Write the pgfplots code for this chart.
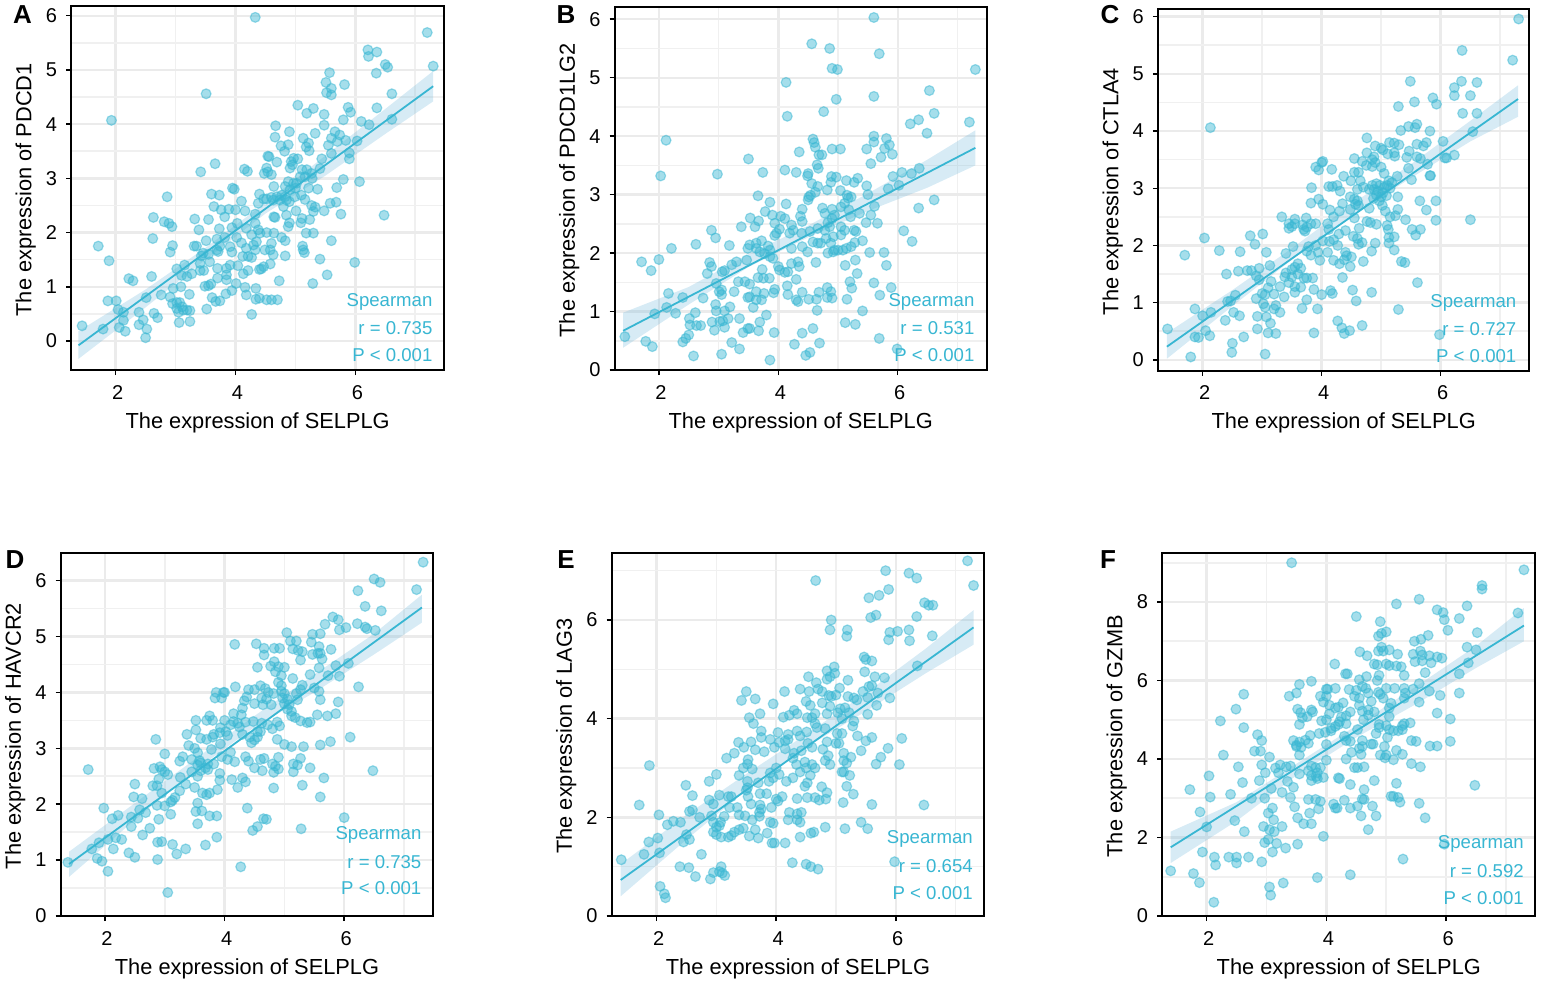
\documentclass[border=0pt]{standalone}
\usepackage{fontspec}
\setmainfont{Liberation Sans}
\usepackage{pgfplots}
\pgfplotsset{compat=1.18}
\definecolor{cb}{HTML}{38B6D2}
\definecolor{bandc}{HTML}{6FB7DA}
\definecolor{gmaj}{HTML}{EBEBEB}
\definecolor{gmin}{HTML}{F0F0F0}
\tikzset{stat/.style={font=\fontsize{9.3}{11}\selectfont, text=cb, anchor=east, inner sep=0pt},
  letter/.style={font=\bfseries\fontsize{13}{15}\selectfont}}
\pgfplotsset{
  pan/.style={
    scale only axis, anchor=south west,
    /pgf/number format/assume math mode=true,
    tick label style={font=\fontsize{10}{12}\selectfont, black},
    label style={font=\fontsize{10.9}{13}\selectfont, black},
    axis line style={line width=0.95pt, black},
    tick style={line width=0.75pt, black},
    major tick length=2.6pt, minor tick length=0pt,
    tick align=outside, xtick pos=bottom, ytick pos=left,
    xtick={2,4,6}, minor xtick={3,5,7},
    xmajorgrids, ymajorgrids, xminorgrids, yminorgrids,
    major grid style={gmaj, line width=1.2pt},
    minor grid style={gmin, line width=0.8pt},
    xlabel={The expression of SELPLG},
    xlabel style={at={(axis description cs:0.5,-0.145)}, anchor=center},
    ylabel style={at={(axis description cs:-0.122,0.495)}, anchor=center},
    xticklabel style={xshift=1pt, yshift=-1.5pt},
    yticklabel style={xshift=-1pt},
    enlargelimits=false, clip=false,
  },
  dots/.style={only marks, mark=*, mark size=2.45pt,
    mark options={fill=cb, draw=cb, fill opacity=0.45, draw opacity=0.5, line width=0.6pt}},
  band/.style={fill=bandc, draw=none, opacity=0.28, forget plot},
  fit/.style={cb, line width=0.9pt, no marks},
}
\begin{document}
\begin{tikzpicture}
\path[use as bounding box] (0pt,0pt) rectangle (770.5pt,492pt);

% A
\begin{axis}[pan, at={(35.65pt,307pt)}, width=186.35pt, height=182pt,
  xmin=1.26, xmax=7.48, ymin=-0.535, ymax=6.18, ytick={0,...,6}, minor ytick={0.5,1.5,...,5.5},
  ylabel={The expression of PDCD1}]
\addplot[band] coordinates {(1.38,0.18) (2.5,0.95) (3.5,1.72) (4.5,2.55) (5.5,3.42) (6.5,4.28) (7.3,4.98) (7.3,4.42) (6.5,3.82) (5.5,3.05) (4.5,2.35) (3.5,1.5) (2.5,0.62) (1.38,-0.33)} -- cycle;
\addplot[dots] coordinates {
(4.33,5.97) (7.20,5.69) (7.30,5.07) (6.21,5.37) (6.36,5.33) (6.22,5.25) (6.35,4.94) (6.50,5.10) (6.54,5.05) (5.57,4.95)
(5.51,4.77) (5.82,4.73) (5.6,4.66) (5.52,4.58) (5.6,4.54) (6.61,4.56) (3.51,4.56) (5.04,4.35) (5.88,4.31) (5.3,4.29)
(6.36,4.3) (5.19,4.2) (5.92,4.22) (5.48,4.18) (5.8,4.08) (6.1,4.05) (6.61,4.09) (6.23,3.99) (1.93,4.07) (4.67,3.97)
(5.48,3.98) (4.9,3.86) (5.33,3.83) (5.66,3.86) (5.74,3.8) (4.66,3.76) (5.13,3.74) (5.6,3.74) (5.84,3.7) (6.03,3.69)
(5.7,3.68) (5.22,3.65) (5.55,3.61) (4.76,3.6) (4.88,3.62) (5.18,3.58) (4.82,3.5) (5.23,3.51) (5.6,3.46) (5.9,3.47)
(5.9,3.36) (4.54,3.41) (4.56,3.4) (5.44,3.36) (4.97,3.37) (4.93,3.31) (4.95,3.25) (4.91,3.19) (5.04,3.36) (4.69,3.3)
(3.66,3.27) (4.52,3.19) (4.48,3.09) (4.54,3.12) (4.6,3.07) (4.15,3.17) (4.2,3.13) (3.42,3.12) (5.41,3.18) (5.11,3.16)
(5.19,3.16) (5.27,3.09) (5.08,3.03) (5.16,3.03) (5.28,3.0) (5.02,2.91) (5.8,2.98) (6.07,2.94) (4.88,2.94) (4.97,2.91)
(4.83,2.85) (4.91,2.79) (5.0,2.82) (4.64,2.85) (5.22,2.82) (5.37,2.8) (3.95,2.82) (3.98,2.8) (5.69,2.83) (3.6,2.71)
(3.73,2.69) (4.4,2.71) (4.47,2.62) (4.38,2.54) (4.52,2.62) (4.6,2.65) (4.69,2.66) (4.77,2.69) (4.63,2.6) (4.74,2.6)
(4.83,2.66) (4.85,2.6) (4.9,2.57) (4.99,2.66) (5.1,2.69) (5.16,2.61) (2.86,2.66) (4.1,2.58) (5.68,2.56) (5.58,2.54)
(3.64,2.48) (5.27,2.5) (5.33,2.47) (5.3,2.39) (3.76,2.42) (3.82,2.29) (3.89,2.43) (4.0,2.42) (4.16,2.4) (4.8,2.48)
(5.01,2.4) (5.48,2.4) (5.76,2.34) (6.48,2.32) (4.33,2.34) (4.66,2.28) (4.64,2.29) (4.85,2.32) (2.63,2.28) (3.32,2.25)
(3.55,2.24) (5.11,2.26) (5.24,2.24) (2.81,2.2) (2.89,2.17) (2.94,2.11) (4.9,2.18) (4.88,2.11) (5.09,2.18) (4.03,2.17)
(3.94,2.09) (4.18,2.08) (4.33,2.17) (3.73,2.07) (3.39,2.05) (4.38,2.05) (4.52,2.0) (4.27,1.96) (4.41,1.99) (4.64,1.99)
(5.18,1.99) (5.3,1.99) (4.02,1.91) (3.82,1.91) (3.69,1.88) (4.77,1.91) (4.83,1.85) (2.62,1.89) (3.51,1.85) (3.35,1.75)
(3.31,1.75) (4.1,1.81) (4.35,1.83) (4.3,1.77) (4.6,1.8) (5.6,1.85) (1.71,1.75) (2.95,1.76) (5.12,1.75) (5.13,1.68)
(5.15,1.63) (4.18,1.71) (4.33,1.68) (4.49,1.68) (4.58,1.68) (3.74,1.75) (3.69,1.68) (3.91,1.74) (2.91,1.64) (3.94,1.64)
(3.46,1.62) (3.55,1.6) (3.71,1.65) (3.43,1.57) (4.63,1.59) (4.12,1.56) (4.27,1.54) (4.21,1.56) (4.83,1.57) (5.41,1.51)
(1.89,1.48) (3.57,1.46) (5.99,1.45) (3.41,1.43) (4.58,1.42) (4.47,1.37) (4.4,1.32) (4.43,1.33) (3.91,1.4) (4.04,1.39)
(3.85,1.34) (3.15,1.4) (3.02,1.33) (3.7,1.34) (4.21,1.3) (3.41,1.3) (3.47,1.3) (3.27,1.24) (3.19,1.19) (3.1,1.21)
(4.13,1.24) (5.53,1.22) (3.85,1.22) (3.7,1.16) (2.6,1.19) (2.22,1.15) (2.29,1.11) (3.85,1.13) (4.01,1.06) (4.73,1.11)
(5.29,1.06) (3.49,1.01) (3.59,1.05) (3.55,1.02) (2.96,0.97) (3.09,1.0) (4.16,0.99) (4.34,0.97) (3.94,0.93) (3.23,0.86)
(2.76,0.85) (2.51,0.8) (2.91,0.81) (3.84,0.87) (4.18,0.85) (3.61,0.8) (3.67,0.73) (3.74,0.74) (4.34,0.77) (4.4,0.79)
(4.52,0.76) (4.6,0.76) (4.7,0.76) (1.87,0.74) (2.01,0.74) (2.95,0.69) (3.02,0.71) (3.07,0.71) (2.04,0.58) (2.13,0.53)
(3.52,0.59) (3.02,0.6) (3.05,0.53) (3.13,0.57) (3.19,0.57) (3.24,0.56) (3.11,0.63) (2.39,0.53) (2.64,0.51) (4.27,0.49)
(2.7,0.43) (2.46,0.39) (2.13,0.38) (3.24,0.36) (3.06,0.34) (2.39,0.3) (1.44,0.28) (2.52,0.22) (1.79,0.22) (2.06,0.25)
(2.16,0.18) (2.5,0.06)};
\addplot[fit] coordinates {(1.38,-0.08) (7.3,4.7)};
\node[stat] at (axis description cs:0.97,0.187) {Spearman};
\node[stat] at (axis description cs:0.97,0.114) {r = 0.735};
\node[stat] at (axis description cs:0.97,0.041) {P < 0.001};
\end{axis}

% B
\begin{axis}[pan, at={(307.35pt,307pt)}, width=186pt, height=181.65pt,
  xmin=1.26, xmax=7.49, ymin=0, ymax=6.215, ytick={0,...,6}, minor ytick={0.5,1.5,...,5.5},
  ylabel={The expression of PDCD1LG2}]
\addplot[band] coordinates {(1.4,0.98) (2.5,1.42) (3.5,1.98) (4.5,2.47) (5.5,3.02) (6.5,3.6) (7.3,4.1) (7.3,3.5) (6.5,3.12) (5.5,2.72) (4.5,2.27) (3.5,1.76) (2.5,1.12) (1.4,0.38)} -- cycle;
\addplot[dots] coordinates {
(5.60,6.03) (4.56,5.58) (4.86,5.5) (5.69,5.41) (4.9,5.16) (4.99,5.14) (7.30,5.14) (4.13,4.92) (6.53,4.78) (5.6,4.68)
(4.97,4.63) (4.76,4.42) (6.61,4.39) (4.15,4.34) (6.35,4.28) (7.2,4.24) (6.21,4.21) (6.49,4.05) (5.6,4.0) (5.81,3.96)
(2.12,3.93) (4.58,3.95) (4.6,3.89) (5.6,3.9) (4.62,3.81) (5.86,3.85) (5.78,3.79) (4.9,3.78) (5.04,3.78) (5.48,3.78)
(4.35,3.73) (4.68,3.68) (4.73,3.68) (5.91,3.69) (5.72,3.64) (3.5,3.61) (5.55,3.53) (4.65,3.51) (4.67,3.45) (4.11,3.42)
(4.3,3.38) (3.74,3.38) (2.98,3.35) (2.03,3.32) (4.5,3.36) (4.49,3.32) (4.89,3.31) (4.97,3.3) (5.92,3.31) (6.07,3.38)
(6.23,3.36) (6.36,3.45) (5.14,3.24) (5.27,3.21) (5.33,3.28) (4.88,3.21) (4.56,3.19) (4.66,3.14) (5.48,3.15) (6.02,3.16)
(4.82,3.08) (5.04,3.07) (5.84,3.1) (4.62,3.04) (4.54,2.99) (4.5,2.91) (5.5,3.0) (3.66,2.98) (5.15,2.99) (5.22,2.96)
(5.17,2.94) (4.51,2.96) (6.61,2.91) (3.86,2.87) (4.13,2.84) (5.11,2.85) (5.05,2.79) (5.61,2.8) (4.4,2.75) (4.74,2.77)
(4.78,2.68) (4.9,2.75) (6.35,2.77) (3.78,2.71) (3.9,2.65) (5.18,2.74) (5.36,2.68) (5.21,2.62) (4.94,2.65) (4.9,2.59)
(4.83,2.52) (4.04,2.63) (4.11,2.59) (4.37,2.63) (4.4,2.54) (5.55,2.65) (5.47,2.52) (5.66,2.51) (3.53,2.6) (3.67,2.55)
(3.94,2.51) (4.22,2.48) (3.61,2.45) (3.38,2.45) (2.88,2.39) (4.02,2.41) (3.97,2.34) (3.94,2.3) (5.05,2.45) (5.11,2.39)
(5.27,2.39) (5.3,2.37) (4.25,2.39) (4.39,2.34) (4.53,2.37) (4.66,2.42) (4.78,2.39) (4.86,2.45) (6.1,2.38) (4.19,2.34)
(5.05,2.31) (2.95,2.26) (3.72,2.21) (4.92,2.28) (4.8,2.25) (4.88,2.17) (4.71,2.17) (4.58,2.19) (4.66,2.17) (5.41,2.21)
(5.28,2.18) (6.24,2.2) (2.62,2.15) (3.63,2.17) (3.49,2.08) (3.63,2.08) (3.52,2.14) (3.18,2.13) (3.83,2.12) (3.86,2.05)
(3.69,2.02) (3.77,1.99) (3.86,1.94) (3.91,1.91) (2.21,2.08) (4.4,2.11) (4.22,2.08) (4.49,2.02) (5.22,2.11) (5.14,2.08)
(5.0,2.05) (5.08,2.05) (4.92,2.02) (4.83,2.0) (4.94,2.05) (5.53,2.01) (5.77,2.01) (2.0,1.89) (1.71,1.85) (2.85,1.84)
(3.47,1.88) (3.3,1.85) (4.33,1.85) (4.22,1.82) (4.35,1.77) (5.29,1.88) (4.63,1.84) (3.22,1.8) (2.88,1.77) (5.81,1.79)
(5.12,1.79) (4.0,1.77) (4.02,1.71) (4.16,1.68) (4.11,1.67) (1.87,1.7) (3.73,1.72) (3.06,1.68) (3.1,1.7) (2.81,1.65)
(5.32,1.65) (4.3,1.55) (3.66,1.58) (3.85,1.57) (3.75,1.57) (5.2,1.51) (5.6,1.49) (3.44,1.51) (3.33,1.51) (3.52,1.47)
(2.96,1.48) (4.15,1.44) (5.89,1.41) (4.82,1.41) (4.88,1.34) (5.23,1.4) (3.94,1.38) (3.92,1.32) (3.05,1.37) (3.01,1.34)
(3.05,1.29) (3.26,1.34) (4.4,1.33) (4.68,1.33) (3.63,1.34) (3.76,1.31) (2.16,1.31) (4.16,1.29) (5.7,1.28) (3.52,1.25)
(3.49,1.24) (2.4,1.24) (4.82,1.24) (4.9,1.23) (2.74,1.23) (4.3,1.2) (4.33,1.17) (4.51,1.21) (4.64,1.21) (3.63,1.2)
(3.72,1.2) (5.15,1.21) (2.95,1.12) (3.58,1.07) (3.19,1.08) (3.1,1.01) (2.13,1.07) (4.65,1.02) (5.41,1.01) (2.96,1.01)
(1.93,0.96) (2.28,0.97) (2.61,0.98) (3.8,0.94) (3.35,0.88) (2.51,0.88) (3.16,0.88) (2.89,0.82) (3.02,0.83) (3.07,0.84)
(3.69,0.82) (5.12,0.81) (5.29,0.78) (2.52,0.77) (2.63,0.76) (2.7,0.76) (3.1,0.73) (2.93,0.68) (3.49,0.71) (3.52,0.71)
(4.58,0.71) (3.67,0.67) (3.93,0.64) (3.41,0.64) (4.4,0.63) (2.5,0.6) (2.45,0.54) (1.43,0.57) (5.69,0.54) (1.78,0.49)
(2.4,0.48) (3.22,0.47) (4.69,0.46) (4.27,0.44) (1.89,0.4) (3.35,0.36) (5.99,0.36) (3.05,0.27) (4.53,0.3) (4.46,0.25)
(2.58,0.24) (3.86,0.17)};
\addplot[fit] coordinates {(1.4,0.67) (7.3,3.8)};
\node[stat] at (axis description cs:0.968,0.187) {Spearman};
\node[stat] at (axis description cs:0.968,0.114) {r = 0.531};
\node[stat] at (axis description cs:0.968,0.041) {P < 0.001};
\end{axis}

% C
\begin{axis}[pan, at={(579pt,306.65pt)}, width=185.65pt, height=181pt,
  xmin=1.25, xmax=7.49, ymin=-0.19, ymax=6.14, ytick={0,...,6}, minor ytick={0.5,1.5,...,5.5},
  ylabel={The expression of CTLA4}]
\addplot[band] coordinates {(1.4,0.47) (2.5,1.22) (3.5,1.95) (4.5,2.72) (5.5,3.42) (6.5,4.18) (7.3,4.8) (7.3,4.25) (6.5,3.82) (5.5,3.18) (4.5,2.52) (3.5,1.75) (2.5,0.94) (1.4,0.02)} -- cycle;
\addplot[dots] coordinates {
(7.31,5.96) (6.36,5.41) (7.21,5.24) (5.49,4.87) (6.35,4.87) (6.61,4.85) (6.23,4.76) (6.23,4.62) (6.5,4.62) (5.87,4.58)
(5.56,4.51) (5.93,4.47) (5.29,4.43) (6.37,4.31) (6.61,4.31) (5.6,4.12) (5.46,4.08) (5.57,4.06) (5.33,4.01) (5.82,4.0)
(2.13,4.06) (6.54,3.99) (4.76,3.88) (6.04,3.82) (5.14,3.8) (5.22,3.79) (5.3,3.76) (5.76,3.8) (5.6,3.77) (5.71,3.74)
(4.9,3.74) (5.0,3.7) (5.03,3.67) (5.47,3.65) (5.22,3.62) (5.11,3.6) (5.23,3.56) (4.76,3.62) (6.23,3.58) (6.07,3.53)
(6.1,3.53) (5.6,3.55) (5.66,3.52) (5.43,3.54) (4.55,3.52) (4.68,3.47) (4.88,3.55) (4.85,3.5) (4.9,3.45) (4.75,3.4)
(4.85,3.38) (5.0,3.37) (5.78,3.42) (3.9,3.37) (3.95,3.32) (4.0,3.45) (4.02,3.47) (4.17,3.33) (5.46,3.35) (4.55,3.28)
(4.62,3.28) (5.05,3.26) (5.82,3.22) (5.83,3.22) (4.37,3.21) (5.27,3.21) (4.65,3.13) (4.49,3.13) (5.13,3.13) (5.18,3.1)
(5.51,3.15) (4.12,3.03) (4.18,3.03) (4.26,3.05) (3.83,3.01) (4.31,2.95) (4.7,3.02) (4.6,2.98) (4.85,3.05) (4.92,3.08)
(4.98,3.05) (5.05,3.02) (5.1,3.05) (4.8,2.98) (4.88,2.98) (4.95,2.95) (5.03,2.92) (4.92,2.88) (5.0,2.85) (5.09,2.87)
(5.15,3.0) (4.87,2.82) (4.97,2.78) (5.28,2.85) (4.48,2.85) (4.55,2.81) (4.6,2.78) (3.95,2.81) (3.82,2.74) (4.02,2.72)
(4.35,2.73) (4.57,2.72) (4.62,2.7) (5.02,2.7) (5.65,2.78) (5.92,2.78) (5.76,2.62) (4.8,2.65) (4.14,2.62) (4.48,2.63)
(4.3,2.6) (5.07,2.6) (5.28,2.63) (3.33,2.5) (3.55,2.46) (3.74,2.48) (4.2,2.5) (4.55,2.48) (5.15,2.5) (5.24,2.52)
(5.41,2.45) (5.92,2.44) (6.5,2.45) (3.45,2.38) (3.45,2.3) (3.5,2.33) (3.55,2.38) (3.68,2.36) (3.7,2.28) (3.75,2.32)
(3.82,2.38) (3.9,2.38) (4.1,2.38) (3.72,2.25) (4.76,2.42) (4.82,2.4) (4.92,2.37) (5.1,2.35) (5.12,2.28) (4.12,2.28)
(4.63,2.3) (5.52,2.28) (5.66,2.28) (4.4,2.26) (4.29,2.2) (2.8,2.17) (3.01,2.2) (2.03,2.13) (4.53,2.16) (5.58,2.18)
(5.13,2.14) (5.22,2.15) (4.6,2.12) (4.13,2.07) (4.02,2.08) (4.2,2.1) (4.68,2.05) (4.9,2.04) (5.13,2.04) (4.62,2.02)
(2.88,2.02) (3.52,1.98) (3.78,1.98) (3.9,2.0) (4.27,2.0) (2.28,1.91) (2.63,1.89) (3.07,1.88) (3.94,1.88) (4.1,1.88)
(3.4,1.86) (3.75,1.9) (3.82,1.83) (4.84,1.9) (5.22,1.92) (1.7,1.83) (4.4,1.88) (4.42,1.82) (4.5,1.8) (4.38,1.75)
(3.97,1.74) (4.2,1.74) (4.7,1.72) (5.34,1.72) (5.4,1.7) (4.3,1.68) (4.48,1.63) (3.13,1.65) (3.6,1.68) (3.55,1.62)
(3.65,1.6) (3.5,1.58) (2.95,1.6) (2.82,1.56) (2.6,1.55) (2.75,1.56) (3.4,1.52) (3.5,1.45) (3.6,1.5) (2.4,1.5)
(2.9,1.47) (3.38,1.45) (2.95,1.4) (3.7,1.43) (3.75,1.43) (3.85,1.43) (4.35,1.44) (3.15,1.37) (5.61,1.35) (3.45,1.35)
(3.3,1.28) (3.55,1.28) (3.65,1.27) (3.1,1.26) (3.87,1.23) (4.52,1.22) (4.15,1.21) (4.18,1.16) (3.55,1.18) (3.0,1.16)
(3.05,1.14) (3.2,1.15) (4.0,1.14) (4.84,1.18) (2.55,1.13) (3.37,1.1) (2.9,1.07) (2.47,1.03) (2.42,1.02) (3.75,1.05)
(4.58,1.03) (3.02,0.98) (3.23,0.95) (3.05,0.92) (3.2,0.89) (3.67,0.9) (3.93,0.89) (5.29,0.88) (1.87,0.89) (2.14,0.83)
(2.52,0.83) (3.3,0.83) (2.0,0.77) (2.62,0.77) (2.92,0.76) (3.07,0.75) (2.38,0.69) (4.27,0.68) (3.14,0.64) (4.68,0.6)
(4.34,0.56) (1.41,0.54) (2.92,0.54) (2.05,0.51) (4.47,0.51) (3.1,0.47) (3.23,0.46) (3.87,0.47) (4.38,0.46) (5.98,0.44)
(1.87,0.4) (1.93,0.39) (2.12,0.42) (2.69,0.4) (2.5,0.29) (2.49,0.13) (3.05,0.1) (1.8,0.05)};
\addplot[fit] coordinates {(1.4,0.23) (7.3,4.56)};
\node[stat] at (axis description cs:0.966,0.187) {Spearman};
\node[stat] at (axis description cs:0.966,0.114) {r = 0.727};
\node[stat] at (axis description cs:0.966,0.041) {P < 0.001};
\end{axis}

% D
\begin{axis}[pan, at={(30.35pt,34pt)}, width=186.3pt, height=181.65pt,
  xmin=1.26, xmax=7.49, ymin=0, ymax=6.5, ytick={0,...,6}, minor ytick={0.5,1.5,...,5.5},
  ylabel={The expression of HAVCR2}]
\addplot[band] coordinates {(1.4,1.15) (2.5,2.02) (3.5,2.8) (4.5,3.58) (5.5,4.32) (6.5,5.05) (7.3,5.75) (7.3,5.25) (6.5,4.68) (5.5,4.0) (4.5,3.38) (3.5,2.6) (2.5,1.72) (1.4,0.7)} -- cycle;
\addplot[dots] coordinates {
(7.32,6.33) (6.5,6.03) (6.6,5.97) (7.21,5.84) (6.23,5.82) (6.35,5.54) (6.62,5.46) (5.81,5.35) (5.9,5.3) (5.68,5.22)
(6.22,5.23) (6.35,5.17) (6.38,5.14) (6.52,5.11) (6.03,5.16) (5.92,5.12) (5.04,5.07) (5.47,5.04) (5.6,5.05) (5.1,4.92)
(5.2,4.92) (5.45,4.9) (5.58,4.82) (4.17,4.86) (4.53,4.87) (4.66,4.79) (4.83,4.79) (4.92,4.79) (5.14,4.78) (5.23,4.75)
(5.3,4.73) (5.78,4.77) (5.47,4.68) (5.56,4.7) (5.6,4.7) (4.66,4.67) (5.27,4.58) (5.63,4.6) (4.83,4.55) (4.77,4.47)
(4.9,4.46) (5.0,4.45) (5.86,4.48) (6.07,4.52) (4.55,4.45) (5.58,4.44) (4.85,4.37) (4.95,4.3) (5.43,4.32) (5.73,4.3)
(5.92,4.29) (5.14,4.25) (4.9,4.18) (4.95,4.12) (5.3,4.13) (4.18,4.1) (6.24,4.1) (4.6,4.12) (4.5,4.05) (4.4,4.05)
(4.68,4.07) (5.5,4.08) (5.27,4.05) (3.86,4.0) (3.98,4.0) (3.95,3.9) (3.84,3.9) (4.0,4.0) (4.73,4.0) (4.82,3.98)
(4.95,4.02) (5.0,3.98) (5.58,4.02) (5.2,3.98) (4.37,3.92) (4.33,3.85) (4.3,3.72) (4.62,3.9) (4.7,3.88) (4.97,3.9)
(5.05,3.88) (5.22,3.87) (5.6,3.87) (5.9,3.83) (4.5,3.8) (4.64,3.78) (4.78,3.78) (5.0,3.8) (5.08,3.78) (4.28,3.6)
(4.15,3.62) (5.05,3.7) (5.12,3.66) (5.12,3.58) (5.18,3.55) (5.55,3.6) (5.72,3.58) (5.86,3.62) (3.52,3.5) (3.7,3.5)
(3.75,3.58) (3.8,3.5) (4.0,3.5) (4.15,3.48) (4.22,3.45) (4.35,3.47) (4.48,3.48) (4.62,3.45) (4.72,3.42) (4.88,3.47)
(5.27,3.49) (5.38,3.46) (5.43,3.47) (3.93,3.37) (4.02,3.3) (4.1,3.42) (4.25,3.38) (4.8,3.35) (4.92,3.4) (3.92,3.28)
(4.05,3.23) (4.3,3.25) (4.55,3.3) (4.6,3.3) (3.37,3.25) (3.52,3.33) (3.82,3.25) (3.8,3.2) (4.42,3.2) (4.5,3.15)
(4.55,3.2) (3.6,3.18) (3.7,3.16) (2.85,3.16) (4.45,3.1) (4.88,3.16) (5.0,3.07) (5.12,3.03) (5.32,3.03) (5.6,3.06)
(5.77,3.12) (6.1,3.2) (3.4,3.05) (3.5,3.0) (3.93,3.08) (3.78,2.98) (3.55,2.92) (4.1,2.93) (3.0,2.9) (3.95,2.85)
(3.3,2.85) (3.45,2.8) (3.58,2.78) (4.05,2.8) (4.35,2.85) (4.4,2.77) (4.6,2.8) (4.66,2.82) (4.9,2.84) (5.27,2.82)
(3.25,2.77) (3.6,2.74) (3.72,2.72) (3.82,2.72) (4.17,2.76) (3.55,2.7) (4.8,2.72) (4.85,2.68) (5.15,2.72) (5.22,2.7)
(2.92,2.67) (2.95,2.62) (2.82,2.64) (3.68,2.65) (3.6,2.6) (3.72,2.62) (4.5,2.65) (4.63,2.6) (4.9,2.63) (5.15,2.58)
(5.43,2.65) (6.48,2.6) (1.72,2.62) (3.0,2.58) (3.05,2.53) (3.45,2.58) (3.92,2.55) (3.55,2.5) (4.82,2.57) (3.26,2.48)
(2.9,2.45) (3.92,2.43) (4.12,2.44) (4.3,2.47) (4.35,2.4) (5.66,2.47) (2.8,2.33) (2.87,2.33) (3.35,2.36) (2.5,2.36)
(3.5,2.3) (5.3,2.34) (4.22,2.3) (4.82,2.29) (3.88,2.26) (3.25,2.24) (3.63,2.2) (3.75,2.2) (2.95,2.2) (3.17,2.12)
(2.48,2.13) (2.62,2.1) (3.7,2.17) (5.6,2.13) (3.13,2.07) (3.1,2.04) (3.55,2.02) (2.87,1.98) (3.0,1.97) (4.38,1.93)
(1.98,1.93) (2.58,1.9) (2.68,1.85) (3.52,1.87) (3.62,1.88) (3.1,1.82) (2.22,1.8) (2.44,1.77) (2.55,1.75) (3.75,1.79)
(3.87,1.79) (2.12,1.74) (2.9,1.73) (4.65,1.74) (4.7,1.73) (6.0,1.76) (3.55,1.65) (2.44,1.6) (2.75,1.57) (4.55,1.6)
(4.47,1.53) (5.28,1.56) (2.63,1.45) (2.18,1.4) (3.87,1.41) (2.28,1.37) (1.9,1.31) (2.05,1.37) (2.88,1.32) (2.95,1.33)
(3.13,1.28) (3.68,1.27) (1.78,1.2) (2.14,1.2) (3.35,1.2) (2.4,1.13) (3.2,1.11) (2.5,1.05) (1.87,1.03) (1.95,0.98)
(2.88,1.01) (1.38,0.96) (4.27,0.88) (2.05,0.8) (3.05,0.42)};
\addplot[fit] coordinates {(1.4,0.93) (7.3,5.52)};
\node[stat] at (axis description cs:0.969,0.223) {Spearman};
\node[stat] at (axis description cs:0.969,0.149) {r = 0.735};
\node[stat] at (axis description cs:0.969,0.076) {P < 0.001};
\end{axis}

% E
\begin{axis}[pan, at={(305.85pt,34pt)}, width=186.3pt, height=181.65pt,
  xmin=1.25, xmax=7.48, ymin=0, ymax=7.365, ytick={0,2,4,6}, minor ytick={1,3,5,7},
  ylabel={The expression of LAG3}]
\addplot[band] coordinates {(1.4,1.05) (2.5,2.05) (3.5,2.88) (4.5,3.68) (5.5,4.52) (6.5,5.42) (7.3,6.2) (7.3,5.5) (6.5,4.92) (5.5,4.15) (4.5,3.42) (3.5,2.55) (2.5,1.55) (1.4,0.4)} -- cycle;
\addplot[dots] coordinates {
(7.2,7.2) (7.3,6.7) (5.83,7.0) (6.22,6.95) (6.35,6.85) (4.66,6.8) (5.88,6.62) (5.72,6.5) (5.55,6.45) (6.48,6.35)
(6.55,6.3) (6.62,6.3) (5.58,6.05) (5.67,6.1) (6.35,6.07) (4.92,6.0) (6.22,5.8) (6.03,5.77) (5.9,5.75) (5.88,5.6)
(6.23,5.58) (4.9,5.8) (5.19,5.8) (5.18,5.67) (6.61,5.68) (5.47,5.25) (5.5,5.2) (5.6,5.17) (6.36,5.07) (4.97,5.05)
(4.85,4.97) (4.98,4.92) (5.48,4.95) (4.9,4.85) (4.85,4.8) (5.2,4.78) (4.54,4.85) (5.65,4.85) (5.81,4.83) (4.67,4.73)
(5.6,4.67) (5.55,4.65) (5.06,4.62) (4.4,4.6) (4.14,4.55) (3.5,4.55) (4.55,4.55) (4.7,4.6) (4.77,4.55) (5.45,4.55)
(5.7,4.52) (3.42,4.37) (3.65,4.4) (5.53,4.43) (5.9,4.42) (4.88,4.47) (4.92,4.45) (5.0,4.48) (5.2,4.45) (5.3,4.42)
(5.35,4.38) (5.68,4.27) (4.5,4.35) (4.77,4.32) (3.95,4.3) (4.57,4.27) (4.9,4.25) (5.07,4.2) (5.15,4.22) (5.03,4.12)
(4.3,4.17) (4.35,4.1) (4.85,4.1) (3.73,4.1) (4.22,4.07) (4.12,4.03) (4.65,4.1) (5.53,4.09) (5.22,4.12) (3.55,4.02)
(4.52,4.02) (4.6,4.02) (5.1,4.0) (5.3,3.95) (3.62,3.9) (4.65,3.9) (4.68,3.82) (5.28,3.85) (4.82,3.8) (3.75,3.75)
(4.03,3.72) (4.35,3.75) (4.51,3.73) (5.02,3.7) (5.1,3.7) (3.75,3.62) (4.2,3.68) (4.4,3.65) (5.36,3.65) (6.1,3.6)
(5.6,3.62) (3.37,3.52) (3.58,3.53) (3.9,3.58) (4.05,3.52) (4.15,3.55) (4.2,3.58) (4.53,3.5) (4.85,3.53) (5.0,3.5)
(5.5,3.55) (3.46,3.42) (3.97,3.42) (4.15,3.39) (4.6,3.42) (4.78,3.38) (5.05,3.5) (3.65,3.37) (3.8,3.33) (5.87,3.4)
(5.42,3.35) (3.3,3.3) (4.3,3.3) (4.42,3.35) (5.13,3.3) (3.17,3.2) (4.28,3.2) (4.87,3.25) (5.25,3.22) (5.75,3.22)
(5.13,3.15) (3.53,3.17) (3.52,3.08) (4.48,3.12) (4.6,3.07) (4.82,3.15) (5.18,3.1) (1.88,3.05) (3.45,3.0) (4.34,3.07)
(4.5,3.0) (4.65,3.0) (4.9,3.07) (5.67,3.08) (6.06,3.07) (3.6,2.98) (4.0,3.0) (3.9,2.9) (4.05,2.87) (4.4,2.92)
(5.1,2.92) (5.13,2.92) (5.23,2.85) (3.0,2.87) (3.38,2.85) (3.95,2.8) (4.28,2.8) (4.57,2.85) (3.88,2.73) (3.52,2.73)
(2.88,2.73) (3.7,2.7) (4.17,2.73) (4.52,2.7) (4.48,2.63) (2.49,2.65) (3.52,2.6) (5.18,2.63) (4.76,2.62) (3.5,2.55)
(2.6,2.44) (3.05,2.45) (3.2,2.42) (3.25,2.42) (3.73,2.48) (3.84,2.48) (4.85,2.5) (5.29,2.47) (3.53,2.42) (4.1,2.42)
(4.0,2.37) (4.03,2.33) (4.35,2.38) (4.52,2.4) (4.65,2.4) (4.72,2.35) (4.83,2.37) (2.88,2.35) (1.71,2.25) (2.95,2.27)
(3.58,2.27) (3.73,2.25) (5.12,2.3) (5.6,2.26) (6.47,2.25) (3.22,2.2) (3.35,2.2) (3.92,2.2) (3.75,2.17) (2.55,2.12)
(2.6,2.15) (3.72,2.1) (2.04,2.05) (4.22,2.1) (4.35,2.07) (4.42,2.1) (2.92,2.03) (3.38,2.05) (3.48,2.03) (3.13,2.02)
(3.72,2.02) (2.72,2.0) (4.2,1.95) (4.35,1.95) (3.6,1.95) (2.28,1.92) (2.4,1.9) (2.18,1.85) (2.95,1.9) (3.07,1.9)
(3.9,1.9) (3.95,1.88) (4.4,1.9) (3.05,1.83) (5.42,1.9) (3.0,1.8) (3.45,1.78) (3.38,1.75) (3.65,1.75) (4.82,1.8)
(5.15,1.77) (5.53,1.77) (2.95,1.7) (3.0,1.65) (3.3,1.7) (3.25,1.63) (3.2,1.6) (3.85,1.68) (4.58,1.68) (4.63,1.7)
(2.5,1.65) (3.08,1.6) (3.55,1.62) (3.7,1.58) (4.4,1.6) (2.02,1.58) (2.55,1.55) (1.87,1.5) (2.45,1.5) (3.93,1.48)
(3.97,1.48) (4.15,1.48) (2.05,1.28) (1.79,1.25) (2.75,1.25) (1.41,1.14) (4.27,1.08) (5.98,1.1) (4.5,1.05) (4.58,1.0)
(4.7,0.95) (2.39,1.0) (2.54,0.98) (3.08,1.0) (2.65,0.8) (2.95,0.88) (3.05,0.9) (3.1,0.87) (3.14,0.82) (2.9,0.75)
(2.06,0.6) (2.13,0.45) (2.15,0.37)};
\addplot[fit] coordinates {(1.4,0.73) (7.3,5.85)};
\node[stat] at (axis description cs:0.97,0.212) {Spearman};
\node[stat] at (axis description cs:0.97,0.138) {r = 0.654};
\node[stat] at (axis description cs:0.97,0.064) {P < 0.001};
\end{axis}

% F
\begin{axis}[pan, at={(581.15pt,34pt)}, width=186.5pt, height=181.65pt,
  xmin=1.26, xmax=7.49, ymin=0, ymax=9.256, ytick={0,2,4,6,8}, minor ytick={1,3,5,7,9},
  ylabel={The expression of GZMB}]
\addplot[band] coordinates {(1.4,2.15) (2.5,2.9) (3.5,3.88) (4.5,4.85) (5.5,5.85) (6.5,6.88) (7.3,7.85) (7.3,7.0) (6.5,6.32) (5.5,5.4) (4.5,4.55) (3.5,3.58) (2.5,2.42) (1.4,1.35)} -- cycle;
\addplot[dots] coordinates {
(3.42,9.0) (7.3,8.82) (6.6,8.42) (6.6,8.33) (5.55,8.07) (5.17,7.95) (6.35,7.9) (5.85,7.8) (5.95,7.73) (4.5,7.63)
(6.22,7.58) (5.97,7.55) (4.9,7.5) (7.2,7.72) (6.03,7.28) (6.52,7.22) (5.0,7.24) (4.92,7.2) (4.87,7.13) (5.7,7.15)
(5.58,7.05) (5.47,7.0) (6.35,6.85) (6.5,6.78) (4.56,6.73) (4.87,6.75) (4.95,6.75) (4.92,6.85) (5.05,6.78) (5.19,6.67)
(5.45,6.67) (5.57,6.75) (5.6,6.65) (5.72,6.63) (5.85,6.6) (5.93,6.57) (4.68,6.63) (5.48,6.48) (5.6,6.5) (5.75,6.45)
(4.14,6.42) (4.8,6.42) (4.85,6.4) (5.0,6.42) (5.05,6.38) (5.17,6.37) (5.25,6.35) (6.37,6.45) (4.32,6.17) (4.35,6.17)
(5.3,6.13) (5.65,6.2) (6.22,6.17) (4.88,6.13) (4.67,6.1) (4.55,6.02) (4.85,6.0) (3.75,5.98) (3.55,5.9) (5.55,5.92)
(4.0,5.78) (4.15,5.8) (4.02,5.78) (4.38,5.77) (4.5,5.75) (4.6,5.85) (4.66,5.8) (5.0,5.8) (5.14,5.8) (5.3,5.8)
(5.45,5.78) (3.38,5.6) (3.5,5.68) (2.62,5.65) (3.9,5.6) (4.0,5.6) (4.47,5.6) (4.55,5.55) (4.7,5.68) (4.87,5.7)
(4.9,5.65) (5.32,5.68) (5.72,5.73) (5.9,5.62) (6.22,5.68) (4.95,5.55) (5.3,5.55) (3.95,5.45) (4.28,5.43) (4.75,5.47)
(5.55,5.45) (4.05,5.37) (4.15,5.3) (4.2,5.32) (4.55,5.37) (5.08,5.42) (5.05,5.3) (3.52,5.27) (2.49,5.27) (3.75,5.25)
(3.77,5.2) (3.57,5.18) (4.4,5.2) (4.6,5.22) (4.7,5.25) (4.8,5.2) (5.85,5.17) (3.68,5.08) (3.6,5.05) (4.05,5.15)
(4.25,5.07) (4.33,5.1) (4.7,5.12) (5.05,5.08) (2.23,4.97) (3.92,4.97) (4.0,5.0) (4.22,4.95) (4.33,4.9) (4.62,5.0)
(6.07,5.02) (3.55,4.88) (4.2,4.88) (4.15,4.83) (4.88,4.88) (5.0,4.85) (5.4,4.92) (2.62,4.8) (4.08,4.78) (4.88,4.8)
(5.05,4.75) (5.12,4.72) (5.2,4.72) (5.27,4.75) (5.27,4.85) (5.3,4.9) (4.08,4.72) (4.52,4.75) (3.73,4.6) (3.88,4.65)
(3.98,4.68) (4.83,4.65) (2.85,4.62) (4.3,4.58) (2.92,4.47) (3.45,4.47) (3.65,4.48) (3.55,4.43) (4.33,4.47) (4.4,4.45)
(4.6,4.47) (5.02,4.55) (5.42,4.47) (5.5,4.45) (6.07,4.45) (3.5,4.35) (3.58,4.3) (3.7,4.4) (4.0,4.37) (4.75,4.38)
(4.78,4.38) (4.6,4.32) (5.73,4.33) (5.85,4.33) (2.8,4.2) (2.9,4.2) (3.5,4.32) (4.55,4.27) (4.97,4.32) (5.17,4.22)
(4.42,4.17) (3.55,4.1) (2.28,4.1) (4.58,4.12) (5.0,4.1) (5.27,4.12) (3.05,4.05) (4.33,4.0) (4.98,4.03) (4.9,4.1)
(5.12,3.98) (4.0,3.97) (5.42,3.88) (3.23,3.85) (3.33,3.8) (3.4,3.82) (3.75,3.82) (3.82,3.78) (3.9,3.78) (2.53,3.8)
(2.92,3.85) (3.15,3.77) (3.2,3.65) (4.47,3.78) (4.52,3.78) (4.63,3.8) (5.57,3.8) (3.7,3.7) (3.55,3.62) (2.98,3.65)
(3.85,3.65) (3.75,3.58) (3.83,3.55) (2.04,3.57) (3.95,3.53) (4.2,3.52) (4.22,3.5) (3.75,3.45) (3.85,3.5) (2.88,3.45)
(3.35,3.43) (2.6,3.4) (4.8,3.45) (5.17,3.38) (4.4,3.35) (6.48,3.33) (3.45,3.28) (3.08,3.25) (1.72,3.22) (4.63,3.22)
(3.26,3.15) (2.4,3.1) (2.06,3.03) (3.4,3.02) (2.75,3.0) (2.97,3.0) (3.7,2.97) (3.82,2.97) (4.3,2.95) (5.08,3.05)
(5.12,3.05) (5.2,3.02) (4.6,2.98) (4.63,2.97) (3.9,2.92) (4.12,2.85) (5.23,2.9) (5.55,2.87) (3.47,2.78) (4.15,2.75)
(4.18,2.75) (4.4,2.75) (4.52,2.8) (4.77,2.8) (3.87,2.73) (3.1,2.75) (1.89,2.65) (3.03,2.62) (3.72,2.62) (4.58,2.55)
(3.52,2.5) (4.83,2.55) (5.65,2.5) (3.12,2.45) (2.47,2.43) (3.62,2.35) (3.75,2.35) (2.95,2.28) (3.26,2.28) (2.0,2.27)
(3.05,2.2) (3.13,2.15) (4.7,2.2) (2.63,2.15) (3.95,2.03) (3.03,1.95) (2.97,1.87) (3.17,1.85) (3.52,1.83) (5.97,1.83)
(3.32,1.73) (1.93,1.63) (3.1,1.63) (2.37,1.5) (2.5,1.5) (2.7,1.5) (2.13,1.5) (2.92,1.38) (5.28,1.45) (2.5,1.35)
(2.15,1.3) (1.4,1.15) (1.78,1.08) (3.85,0.98) (4.4,1.05) (1.88,0.85) (3.28,0.84) (3.05,0.74) (3.07,0.53) (2.12,0.35)};
\addplot[fit] coordinates {(1.4,1.75) (7.3,7.4)};
\node[stat] at (axis description cs:0.97,0.197) {Spearman};
\node[stat] at (axis description cs:0.97,0.123) {r = 0.592};
\node[stat] at (axis description cs:0.97,0.05) {P < 0.001};
\end{axis}

\node[letter] at (11.2pt,484.5pt) {A};
\node[letter] at (283pt,484.5pt) {B};
\node[letter] at (555pt,484.5pt) {C};
\node[letter] at (7.5pt,212pt) {D};
\node[letter] at (283pt,212pt) {E};
\node[letter] at (554pt,212pt) {F};
\end{tikzpicture}
\end{document}
